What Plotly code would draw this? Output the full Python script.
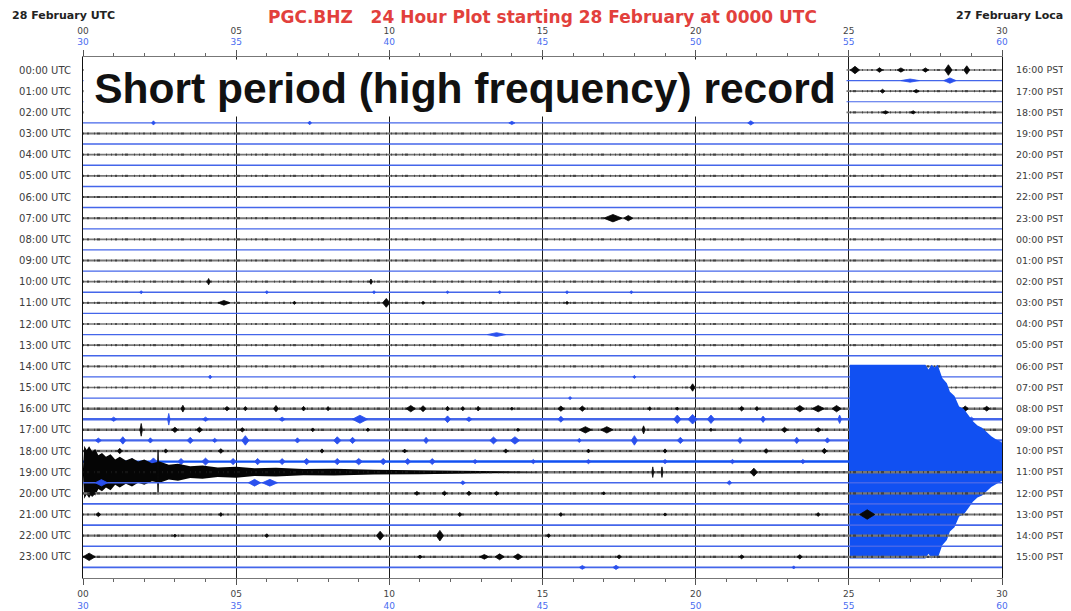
import plotly.graph_objects as go

# ---------------- data ----------------
UTC_LABELS = ["00:00 UTC", "01:00 UTC", "02:00 UTC", "03:00 UTC", "04:00 UTC", "05:00 UTC",
              "06:00 UTC", "07:00 UTC", "08:00 UTC", "09:00 UTC", "10:00 UTC", "11:00 UTC",
              "12:00 UTC", "13:00 UTC", "14:00 UTC", "15:00 UTC", "16:00 UTC", "17:00 UTC",
              "18:00 UTC", "19:00 UTC", "20:00 UTC", "21:00 UTC", "22:00 UTC", "23:00 UTC"]
PST_LABELS = ["16:00 PST", "17:00 PST", "18:00 PST", "19:00 PST", "20:00 PST", "21:00 PST",
              "22:00 PST", "23:00 PST", "00:00 PST", "01:00 PST", "02:00 PST", "03:00 PST",
              "04:00 PST", "05:00 PST", "06:00 PST", "07:00 PST", "08:00 PST", "09:00 PST",
              "10:00 PST", "11:00 PST", "12:00 PST", "13:00 PST", "14:00 PST", "15:00 PST"]
MINUTE_TICKS = [0, 5, 10, 15, 20, 25, 30]
MIN_LABELS_FIRST = ["00", "05", "10", "15", "20", "25", "30"]
MIN_LABELS_SECOND = ["30", "35", "40", "45", "50", "55", "60"]

# background noise half-amplitude (in trace-spacing units), one per hour
BLACK_NOISE = [0.08, 0.08, 0.08, 0.09, 0.08, 0.08, 0.09, 0.09, 0.08, 0.09, 0.08, 0.09,
               0.08, 0.08, 0.08, 0.08, 0.12, 0.12, 0.12, 0.12, 0.10, 0.10, 0.10, 0.11]
BLUE_NOISE = [0.06, 0.05, 0.06, 0.07, 0.07, 0.07, 0.07, 0.06, 0.06, 0.06, 0.06, 0.06,
              0.06, 0.06, 0.06, 0.06, 0.11, 0.11, 0.11, 0.07, 0.08, 0.08, 0.08, 0.08]

# Nisqually earthquake on the 18:30 line (minute, half-amplitude, clipped)
QUAKE_MIN = [25.0, 25.03, 27.5, 27.6, 27.7, 27.8, 27.9, 28.05, 28.2, 28.3, 28.45, 28.6,
             28.75, 28.9, 29.05, 29.2, 29.35, 29.5, 29.65, 29.8, 30.0]
QUAKE_AMP = [0.12, 9.15, 9.15, 8.7, 9.15, 8.9, 9.15, 7.9, 7.4, 6.6, 6.2, 5.2, 5.0, 4.4,
             3.8, 3.4, 3.2, 2.8, 2.4, 2.1, 1.8]
# coda continuing on the 19:00 line
CODA_MIN = [0.0, 0.04, 0.12, 0.2, 0.3, 0.4, 0.5, 0.62, 0.75, 0.9, 1.05, 1.2, 1.4, 1.6,
            1.8, 2.0, 2.25, 2.5, 2.8, 3.1, 3.5, 3.9, 4.4, 5.0, 5.6, 6.3, 7.2, 8.2, 9.5,
            11.0, 13.0, 15.0]
CODA_AMP = [0.3, 2.5, 2.1, 2.45, 1.95, 2.2, 1.6, 1.8, 1.45, 1.7, 1.2, 1.45, 1.1, 1.35,
            1.0, 1.2, 0.85, 1.0, 0.7, 0.8, 0.55, 0.62, 0.45, 0.52, 0.36, 0.42, 0.3, 0.32,
            0.22, 0.2, 0.12, 0.0]

# events: (minute, half-amplitude, half-duration in minutes)
EV_0000 = [(25.2, 0.35, 0.15), (26.0, 0.22, 0.1), (26.7, 0.2, 0.12), (27.5, 0.2, 0.1),
           (28.25, 0.5, 0.12), (28.85, 0.4, 0.1)]
EV_0030 = [(27.0, 0.15, 0.3), (28.3, 0.25, 0.2)]
EV_0100 = [(26.1, 0.18, 0.08), (27.2, 0.15, 0.1)]
EV_0200 = [(26.2, 0.15, 0.1), (27.1, 0.15, 0.08)]
EV_0230 = [(2.3, 0.2, 0.06), (7.4, 0.18, 0.06), (14.0, 0.15, 0.1), (21.8, 0.2, 0.1)]
EV_0700 = [(17.3, 0.35, 0.3), (17.8, 0.25, 0.15)]
EV_1000 = [(4.1, 0.3, 0.05), (9.4, 0.25, 0.05)]
EV_1030 = [(1.9, 0.15, 0.05), (6.0, 0.15, 0.05), (9.5, 0.15, 0.05), (11.9, 0.12, 0.05),
           (13.6, 0.15, 0.05), (15.8, 0.15, 0.05), (17.9, 0.15, 0.05)]
EV_1100 = [(4.6, 0.22, 0.2), (6.9, 0.15, 0.05), (9.9, 0.42, 0.12), (11.1, 0.15, 0.05),
           (15.8, 0.15, 0.05)]
EV_1230 = [(13.5, 0.18, 0.3)]
EV_1430 = [(4.15, 0.18, 0.05), (18.0, 0.15, 0.05)]
EV_1500 = [(19.9, 0.35, 0.08)]
EV_1530 = [(15.9, 0.15, 0.05)]
EV_1600 = [(3.26, 0.32, 0.06), (4.7, 0.2, 0.08), (5.3, 0.2, 0.06), (6.3, 0.3, 0.08),
           (7.2, 0.22, 0.06), (8.0, 0.2, 0.06), (10.7, 0.3, 0.15), (11.1, 0.28, 0.1),
           (11.9, 0.22, 0.06), (12.4, 0.2, 0.06), (12.9, 0.22, 0.06), (14.0, 0.15, 0.05),
           (15.6, 0.25, 0.1), (16.3, 0.25, 0.1), (18.5, 0.18, 0.05), (19.4, 0.15, 0.05),
           (21.5, 0.22, 0.08), (22.0, 0.2, 0.06), (23.4, 0.3, 0.15), (24.0, 0.3, 0.2),
           (24.6, 0.3, 0.15), (28.8, 0.25, 0.1), (29.5, 0.22, 0.1)]
EV_1630 = [(1.0, 0.2, 0.1), (2.8, 0.55, 0.04), (4.0, 0.2, 0.1), (6.5, 0.2, 0.1),
           (9.04, 0.38, 0.25), (11.9, 0.32, 0.1), (12.6, 0.22, 0.1), (15.6, 0.28, 0.1),
           (19.4, 0.4, 0.12), (19.9, 0.45, 0.15), (20.5, 0.4, 0.12), (22.2, 0.3, 0.08),
           (24.7, 0.4, 0.06), (29.0, 0.2, 0.1)]
EV_1700 = [(1.9, 0.6, 0.04), (3.0, 0.25, 0.1), (3.8, 0.25, 0.1), (5.2, 0.2, 0.08),
           (7.5, 0.18, 0.06), (9.3, 0.15, 0.06), (14.2, 0.15, 0.05), (16.4, 0.3, 0.2),
           (17.1, 0.3, 0.2), (18.3, 0.38, 0.05), (20.5, 0.15, 0.05), (22.9, 0.25, 0.1),
           (24.0, 0.2, 0.1)]
EV_1730 = [(0.5, 0.22, 0.1), (1.3, 0.35, 0.1), (2.2, 0.25, 0.08), (3.5, 0.3, 0.1),
           (4.3, 0.2, 0.08), (5.3, 0.45, 0.12), (7.0, 0.25, 0.08), (8.3, 0.35, 0.12),
           (8.8, 0.3, 0.1), (11.2, 0.3, 0.08), (13.4, 0.33, 0.12), (14.1, 0.35, 0.15),
           (16.2, 0.2, 0.06), (18.0, 0.45, 0.1), (19.5, 0.3, 0.1), (21.45, 0.3, 0.08),
           (23.3, 0.3, 0.08), (24.3, 0.25, 0.08)]
EV_1800 = [(1.2, 0.25, 0.08), (2.7, 0.2, 0.06), (4.5, 0.22, 0.08), (7.8, 0.2, 0.06),
           (10.5, 0.18, 0.06), (13.8, 0.2, 0.06), (16.5, 0.18, 0.06), (19.0, 0.2, 0.06),
           (22.3, 0.22, 0.08), (24.2, 0.25, 0.08)]
EV_1830 = [(0.9, 0.3, 0.1), (1.6, 0.3, 0.1), (2.3, 0.35, 0.12), (3.2, 0.3, 0.1),
           (4.0, 0.33, 0.12), (4.9, 0.3, 0.1), (5.7, 0.3, 0.1), (6.5, 0.28, 0.1),
           (7.3, 0.3, 0.1), (8.3, 0.3, 0.1), (9.0, 0.3, 0.12), (9.8, 0.3, 0.1),
           (10.6, 0.28, 0.1), (11.4, 0.28, 0.1), (12.8, 0.2, 0.08), (14.7, 0.2, 0.08),
           (16.5, 0.2, 0.08), (19.0, 0.2, 0.08), (21.2, 0.2, 0.08), (23.5, 0.2, 0.08)]
EV_1900 = [(2.45, 2.1, 0.03), (18.6, 0.5, 0.03), (18.9, 0.5, 0.03), (21.9, 0.38, 0.12)]
EV_1930 = [(0.6, 0.3, 0.2), (5.6, 0.32, 0.2), (6.1, 0.32, 0.25), (12.4, 0.18, 0.08),
           (21.1, 0.2, 0.08)]
EV_2000 = [(0.3, 0.3, 0.1), (10.9, 0.18, 0.08), (11.8, 0.2, 0.08), (12.6, 0.2, 0.08),
           (13.5, 0.18, 0.08), (17.0, 0.15, 0.05)]
EV_2100 = [(0.5, 0.2, 0.08), (4.5, 0.18, 0.06), (12.3, 0.2, 0.06), (15.6, 0.18, 0.06),
           (19.0, 0.15, 0.05), (24.0, 0.18, 0.06), (25.6, 0.45, 0.25)]
EV_2200 = [(3.0, 0.15, 0.05), (6.0, 0.18, 0.06), (9.7, 0.42, 0.12), (11.65, 0.5, 0.12),
           (15.2, 0.18, 0.06)]
EV_2300 = [(0.2, 0.35, 0.2), (11.0, 0.15, 0.08), (13.1, 0.22, 0.15), (13.6, 0.28, 0.15),
           (14.2, 0.28, 0.15), (17.5, 0.18, 0.08), (21.5, 0.18, 0.08), (23.4, 0.2, 0.08)]
EV_2330 = [(16.3, 0.18, 0.1), (17.4, 0.2, 0.1), (23.2, 0.15, 0.05)]

EVENTS = {0: EV_0000, 1: EV_0030, 2: EV_0100, 4: EV_0200, 5: EV_0230, 14: EV_0700,
          20: EV_1000, 21: EV_1030, 22: EV_1100, 25: EV_1230, 29: EV_1430, 30: EV_1500,
          31: EV_1530, 32: EV_1600, 33: EV_1630, 34: EV_1700, 35: EV_1730, 36: EV_1800,
          37: EV_1830, 38: EV_1900, 39: EV_1930, 40: EV_2000, 42: EV_2100, 44: EV_2200,
          46: EV_2300, 47: EV_2330}
QUAKE_ROW = 37
CODA_ROW = 38

# ---------------- styling ----------------
BLACK_BASE = "#777777"
BLACK_TEX = "#1e1e1e"
BLACK_EV = "#080808"
BLUE_BASE = "#4466ea"
BLUE_EV = "#2a50ee"
QUAKE_BLUE = "#1150f2"
TEXTURE_DASH = "1px,3px,2px,5px,1px,2px,3px,6px,1px,4px"

fig = go.Figure()


def band(r, kx, ka, col):
    xs = kx + kx[::-1]
    ys = [r - a for a in ka] + [r + a for a in ka[::-1]]
    fig.add_trace(go.Scatter(x=xs, y=ys, mode="lines", fill="toself", fillcolor=col,
                             line=dict(color=col, width=0), hoverinfo="skip",
                             showlegend=False))


for r in range(48):
    hour, half = divmod(r, 2)
    if half == 0:
        noise = BLACK_NOISE[hour]
        base_col, ev_col = BLACK_BASE, BLACK_EV
    else:
        noise = BLUE_NOISE[hour]
        base_col, ev_col = BLUE_BASE, BLUE_EV
    if r == QUAKE_ROW:
        band(r, [0.0] + QUAKE_MIN, [noise] + QUAKE_AMP, QUAKE_BLUE)
    else:
        band(r, [0.0, 30.0], [noise, noise], base_col)
    if r == CODA_ROW:
        band(r, list(CODA_MIN), list(CODA_AMP), "#050505")
    if half == 0:
        # irregular dotted texture of the short-period trace
        fig.add_trace(go.Scatter(x=[0, 30], y=[r, r], mode="lines",
                                 line=dict(color=BLACK_TEX, width=2.2, dash=TEXTURE_DASH),
                                 opacity=0.6, hoverinfo="skip", showlegend=False))
    evs = EVENTS.get(r, [])
    if evs:
        ex, ey = [], []
        for (m, a, w) in evs:
            ex += [m - w, m, m + w, m, m - w, None]
            ey += [r, r - a, r, r + a, r, None]
        fig.add_trace(go.Scatter(x=ex, y=ey, mode="lines", fill="toself", fillcolor=ev_col,
                                 line=dict(color=ev_col, width=0.8), hoverinfo="skip",
                                 showlegend=False))

BLUE_TXT = "#4a6cf0"
ticktext = [f"{a}<br><span style='color:{BLUE_TXT}'>{b}</span>"
            for a, b in zip(MIN_LABELS_FIRST, MIN_LABELS_SECOND)]

axis_common = dict(range=[0, 30], tickvals=MINUTE_TICKS, ticktext=ticktext,
                   ticks="outside", ticklen=6, tickcolor="#555", tickwidth=1.2,
                   showline=True, linecolor="#777", linewidth=1,
                   tickfont=dict(family="DejaVu Sans", size=9, color="#444"),
                   minor=dict(ticks="outside", dtick=1, ticklen=3, tickcolor="#666", showgrid=False),
                   zeroline=False, fixedrange=True, automargin=False)

# the page adds an 8px body margin, so the figure is sized 8px smaller each way
fig.update_layout(
    width=1063, height=603,
    margin=dict(l=75, r=69, t=49, b=33, autoexpand=False),
    paper_bgcolor="white", plot_bgcolor="white",
    xaxis=dict(**axis_common, side="bottom", showgrid=True, gridcolor="#1a1a1a", gridwidth=1.4,
               ticklabelstandoff=1),
    xaxis2=dict(**axis_common, side="top", overlaying="x", matches="x", showgrid=False,
                ticklabelstandoff=1),
    yaxis=dict(range=[48.0, -1.23], tickvals=list(range(0, 48, 2)), ticktext=UTC_LABELS,
               showgrid=False, zeroline=False, showline=True, linecolor="#111", linewidth=1.2,
               ticks="", tickfont=dict(family="DejaVu Sans", size=10, color="#3c3c3c"),
               ticklabelstandoff=9, fixedrange=True, automargin=False),
    yaxis2=dict(range=[48.0, -1.23], tickvals=list(range(0, 48, 2)), ticktext=PST_LABELS,
                overlaying="y", matches="y", side="right",
                showgrid=False, zeroline=False, showline=True, linecolor="#111", linewidth=1.2,
                ticks="", tickfont=dict(family="DejaVu Sans", size=9.5, color="#3c3c3c"),
                ticklabelstandoff=11, fixedrange=True, automargin=False),
)
# invisible trace so the secondary axes render
fig.add_trace(go.Scatter(x=[None], y=[None], xaxis="x2", yaxis="y2", showlegend=False,
                         hoverinfo="skip"))

fig.add_annotation(text="<b>28 February UTC</b>", xref="paper", yref="paper",
                   x=-0.0794, y=1.0787, xanchor="left", yanchor="middle", showarrow=False,
                   font=dict(family="DejaVu Sans", size=11, color="#222"))
fig.add_annotation(text="<b>PGC.BHZ&nbsp;&nbsp;&nbsp;24 Hour Plot starting 28 February at 0000 UTC</b>",
                   xref="paper", yref="paper", x=0.5, y=1.0767, xanchor="center",
                   yanchor="middle", showarrow=False,
                   font=dict(family="DejaVu Sans", size=17, color="#e2403c"))
fig.add_annotation(text="<b>27 February Local</b>", xref="paper", yref="paper",
                   x=0.948, y=1.0787, xanchor="left", yanchor="middle", showarrow=False,
                   font=dict(family="DejaVu Sans", size=11, color="#222"))
fig.add_annotation(text="<b>Short period (high frequency) record</b>", xref="paper",
                   yref="paper", x=0.4157, y=0.9405, xanchor="center", yanchor="middle",
                   showarrow=False, width=760, height=54, bgcolor="white",
                   font=dict(family="Liberation Sans", size=42.5, color="#111"))

fig.write_html("out.html")
